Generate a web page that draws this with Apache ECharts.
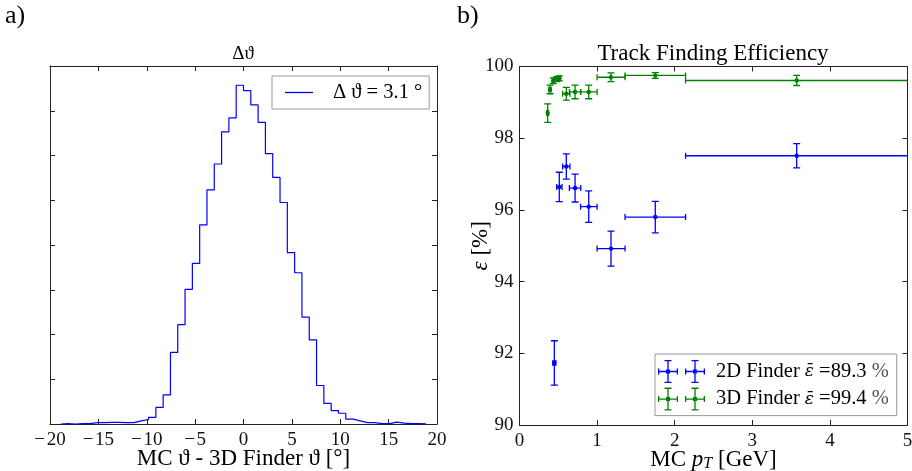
<!DOCTYPE html>
<html>
<head>
<meta charset="utf-8">
<script src="https://cdn.jsdelivr.net/npm/echarts@6/dist/echarts.min.js"></script>
<style>
  html, body { margin: 0; padding: 0; background: #fff; }
  #chart { width: 912px; height: 471px; }
</style>
</head>
<body>
<div id="chart"></div>
<script>
// a) MC theta - 3D finder theta, bin edges at k * binWidth
const binWidth = 0.755;
const firstBin = -25;
const histCounts = [
  0.01, 0.00, 0.01, 0.01, 0.03, 0.03, 0.035, 0.035, 0.03, 0.03,
  0.07, 0.10, 0.15, 0.37, 0.65, 1.60, 2.22, 3.01, 3.59, 4.45,
  5.23, 5.81, 6.53, 6.84, 7.57,
  7.45, 7.13, 6.74, 6.04, 5.51, 4.95, 3.83, 3.38, 2.39, 1.88,
  0.86, 0.46, 0.30, 0.24, 0.11, 0.07, 0.03, 0.03, 0.01, 0.01,
  0.04, 0.02, 0.01, 0.01, 0.005
];
const histLabel = 'Δ ϑ = 3.1 °';

// b) efficiency vs pT
const pt2D   = [0.449, 0.513, 0.603, 0.716, 0.892, 1.179, 1.75, 3.572];
const pt2DLo = [0.430, 0.479, 0.556, 0.643, 0.787, 1.0, 1.36, 2.14];
const pt2DHi = [0.468, 0.548, 0.650, 0.790, 1.0, 1.36, 2.14, 5.5];
const eff2D  = [91.73, 96.64, 97.21, 96.61, 96.09, 94.92, 95.80, 97.51];
const err2D  = [0.62, 0.41, 0.35, 0.39, 0.44, 0.49, 0.44, 0.34];

const pt3D   = [0.363, 0.393, 0.436, 0.479, 0.513, 0.603, 0.716, 0.892, 1.179, 1.75, 3.572];
const pt3DLo = [0.352, 0.379, 0.420, 0.462, 0.496, 0.556, 0.643, 0.787, 1.0, 1.36, 2.14];
const pt3DHi = [0.374, 0.407, 0.452, 0.496, 0.530, 0.650, 0.790, 1.0, 1.36, 2.14, 5.5];
const eff3D  = [98.70, 99.36, 99.60, 99.65, 99.67, 99.24, 99.29, 99.29, 99.70, 99.75, 99.61];
const err3D  = [0.26, 0.12, 0.08, 0.07, 0.07, 0.18, 0.19, 0.19, 0.12, 0.08, 0.14];

const finderNames = ['2D Finder', '3D Finder'];
const meanEff = [89.3, 99.4];

const FONT = 'Liberation Serif, DejaVu Serif, serif';
const BLUE = '#0000ff';
const GREEN = '#008000';

// step outline of the histogram
const histData = [[firstBin * binWidth, 0]];
histCounts.forEach((h, i) => histData.push([(firstBin + i) * binWidth, h]));
histData.push([(firstBin + histCounts.length) * binWidth, 0]);

function errData(x, lo, hi, y, e) {
  return x.map((v, i) => [v, y[i], lo[i], hi[i], e[i]]);
}

// error bar cross drawn with the axis scales
function renderErrorBar(params, api) {
  const cs = params.coordSys;
  const xmin = cs.x, xmax = cs.x + cs.width;
  const y = api.value(1), e = api.value(4);
  const c = api.coord([api.value(0), y]);
  let l = api.coord([api.value(2), y])[0];
  let r = api.coord([api.value(3), y])[0];
  const t = api.coord([api.value(0), y + e])[1];
  const b = api.coord([api.value(0), y - e])[1];
  const col = api.visual('color');
  const st = { stroke: col, lineWidth: 1.3 };
  const kids = [];
  const line = (x1, y1, x2, y2) => kids.push({ type: 'line', shape: { x1, y1, x2, y2 }, style: st });
  const lCap = l >= xmin, rCap = r <= xmax;
  l = Math.max(l, xmin); r = Math.min(r, xmax);
  line(l, c[1], r, c[1]);
  line(c[0], t, c[0], b);
  line(c[0] - 3.5, t, c[0] + 3.5, t);
  line(c[0] - 3.5, b, c[0] + 3.5, b);
  if (lCap) line(l, c[1] - 3, l, c[1] + 3);
  if (rCap) line(r, c[1] - 3, r, c[1] + 3);
  kids.push({ type: 'circle', shape: { cx: c[0], cy: c[1], r: 2.2 }, style: { fill: col } });
  return { type: 'group', children: kids };
}

// two error bar crosses, as matplotlib draws them in the legend
function crossPath(cx) {
  const w = 0.65;
  return `M${cx - 10},${11.5 - w}H${cx + 10}V${11.5 + w}H${cx - 10}Z` +
    `M${cx - w},0H${cx + w}V23H${cx - w}Z` +
    `M${cx - 3.5},0H${cx + 3.5}V${2 * w}H${cx - 3.5}Z` +
    `M${cx - 3.5},${23 - 2 * w}H${cx + 3.5}V23H${cx - 3.5}Z` +
    `M${cx - 10},8.5H${cx - 10 + 2 * w}V14.5H${cx - 10}Z` +
    `M${cx + 10 - 2 * w},8.5H${cx + 10}V14.5H${cx + 10 - 2 * w}Z` +
    `M${cx - 2},9.5H${cx + 2}V13.5H${cx - 2}Z`;
}
const legendCross = 'path://' + crossPath(10) + crossPath(37);

const axisLine = { lineStyle: { color: '#222', width: 1 }, onZero: false };
const tickIn = { inside: true, length: 5, lineStyle: { color: '#222' } };
const tickLabel = { fontFamily: FONT, fontSize: 19, color: '#111', margin: 7 };
const nameStyle = { fontFamily: FONT, fontSize: 23, color: '#000' };
const minus = v => (v < 0 ? '−\u200A' + Math.abs(v) : String(v));

function mirrorAxis(gridIndex, position, min, max, interval) {
  return {
    type: 'value', gridIndex, position, min, max, interval,
    axisLine, axisTick: tickIn, axisLabel: { show: false }, splitLine: { show: false }
  };
}

const chart = echarts.init(document.getElementById('chart'));
chart.setOption({
  animation: false,
  backgroundColor: '#fff',
  title: [
    { text: 'a)', left: 5, top: 3, padding: 0, textStyle: { fontFamily: FONT, fontSize: 26, fontWeight: 'normal', color: '#000' } },
    { text: 'b)', left: 457, top: 3, padding: 0, textStyle: { fontFamily: FONT, fontSize: 26, fontWeight: 'normal', color: '#000' } },
    { text: 'Δϑ', left: 243, top: 45, padding: 0, textAlign: 'center', textStyle: { fontFamily: FONT, fontSize: 19, fontWeight: 'normal', color: '#000' } },
    { text: 'Track Finding Efficiency', left: 713, top: 42, padding: 0, textAlign: 'center', textStyle: { fontFamily: FONT, fontSize: 23, fontWeight: 'normal', color: '#000' } }
  ],
  legend: [
    {
      data: [{ name: histLabel, icon: 'path://M0,0H28V1.3H0Z' }],
      left: 272, top: 76, orient: 'vertical', selectedMode: false,
      itemWidth: 28, itemHeight: 1.3, padding: [6, 7, 6, 13],
      borderColor: '#999', borderWidth: 1,
      textStyle: { fontFamily: FONT, fontSize: 20.5, color: '#000', padding: [0, 0, 0, 15] }
    },
    {
      data: finderNames.map(n => ({ name: n, icon: legendCross })),
      left: 655, top: 354, orient: 'vertical', selectedMode: false,
      itemWidth: 47, itemHeight: 23, itemGap: 4.6, padding: [6, 8, 5, 3],
      borderColor: '#999', borderWidth: 1,
      formatter: n => `{t|${n} }{e|ε̄}{t| =${meanEff[finderNames.indexOf(n)]}}{p| %}`,
      textStyle: {
        fontFamily: FONT, fontSize: 20.5, color: '#000', padding: [0, 0, 0, 6],
        rich: {
          t: { fontFamily: FONT, fontSize: 20.5, color: '#000' },
          e: { fontFamily: 'DejaVu Serif, serif', fontSize: 17, color: '#000', fontStyle: 'italic' },
          p: { fontFamily: FONT, fontSize: 20.5, color: '#555' }
        }
      }
    }
  ],
  grid: [
    { left: 50, top: 66, width: 387, height: 358, outerBoundsMode: 'none', containLabel: false },
    { left: 519.5, top: 66.5, width: 388, height: 358.5, outerBoundsMode: 'none', containLabel: false }
  ],
  xAxis: [
    {
      type: 'value', gridIndex: 0, position: 'bottom', min: -20, max: 20, interval: 5,
      axisLine, axisTick: tickIn, splitLine: { show: false },
      axisLabel: Object.assign({}, tickLabel, { formatter: minus }),
      name: 'MC ϑ - 3D Finder ϑ [°]', nameLocation: 'middle', nameGap: 23.5, nameMoveOverlap: false,
      nameTextStyle: nameStyle
    },
    mirrorAxis(0, 'top', -20, 20, 5),
    {
      type: 'value', gridIndex: 1, position: 'bottom', min: 0, max: 5, interval: 1,
      axisLine, axisTick: tickIn, splitLine: { show: false }, axisLabel: tickLabel,
      name: '{a|MC }{i|p}{s|T}{a| [GeV]}', nameLocation: 'middle', nameGap: 23, nameMoveOverlap: false,
      nameTextStyle: Object.assign({}, nameStyle, {
        rich: {
          a: { fontFamily: FONT, fontSize: 23, color: '#000' },
          i: { fontFamily: FONT, fontSize: 23, color: '#000', fontStyle: 'italic' },
          s: { fontFamily: FONT, fontSize: 16, color: '#000', fontStyle: 'italic', verticalAlign: 'bottom', padding: [8, 0, 0, 0] }
        }
      })
    },
    mirrorAxis(1, 'top', 0, 5, 1)
  ],
  yAxis: [
    {
      type: 'value', gridIndex: 0, position: 'left', min: 0, max: 8, interval: 1,
      axisLine, axisTick: tickIn, axisLabel: { show: false }, splitLine: { show: false }
    },
    mirrorAxis(0, 'right', 0, 8, 1),
    {
      type: 'value', gridIndex: 1, position: 'left', min: 90, max: 100, interval: 2,
      axisLine, axisTick: tickIn, splitLine: { show: false },
      axisLabel: Object.assign({}, tickLabel, { margin: 6 }),
      name: '{i|ε} [%]', nameLocation: 'middle', nameGap: 27, nameMoveOverlap: false,
      nameTextStyle: Object.assign({}, nameStyle, {
        rich: { i: { fontFamily: FONT, fontSize: 23, color: '#000', fontStyle: 'italic' } }
      })
    },
    mirrorAxis(1, 'right', 90, 100, 2)
  ],
  series: [
    {
      name: histLabel, type: 'line', xAxisIndex: 0, yAxisIndex: 0,
      step: 'end', symbol: 'none', data: histData,
      lineStyle: { color: BLUE, width: 1.2 }, itemStyle: { color: BLUE }
    },
    {
      name: finderNames[0], type: 'custom', xAxisIndex: 2, yAxisIndex: 2, clip: true,
      renderItem: renderErrorBar, itemStyle: { color: BLUE },
      data: errData(pt2D, pt2DLo, pt2DHi, eff2D, err2D)
    },
    {
      name: finderNames[1], type: 'custom', xAxisIndex: 2, yAxisIndex: 2, clip: true,
      renderItem: renderErrorBar, itemStyle: { color: GREEN },
      data: errData(pt3D, pt3DLo, pt3DHi, eff3D, err3D)
    }
  ]
});
</script>
</body>
</html>
